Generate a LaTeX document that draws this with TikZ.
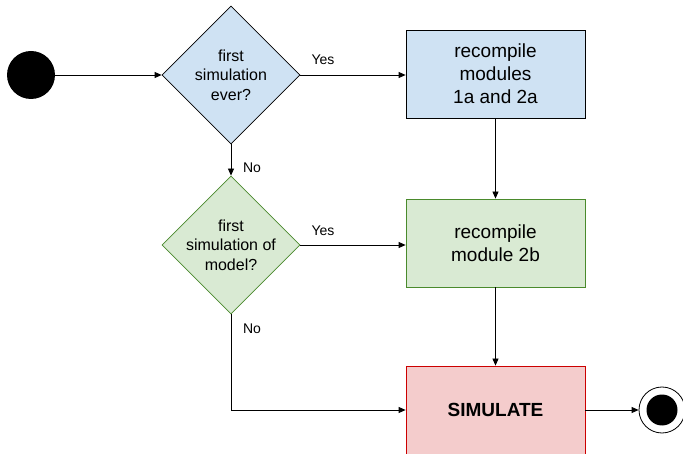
\documentclass[tikz,border=0pt]{standalone}
\usepackage{fontspec}
\setmainfont{Liberation Sans}
\usetikzlibrary{shapes.geometric,arrows.meta}
\definecolor{blueF}{HTML}{CFE2F3}
\definecolor{greenF}{HTML}{D9EAD3}
\definecolor{greenD}{HTML}{4A8A2C}
\definecolor{redF}{HTML}{F4CCCC}
\definecolor{redD}{HTML}{CC0000}
\begin{document}
\begin{tikzpicture}[x=1pt,y=-1pt,
  every path/.style={line width=0.8pt},
  arr/.style={draw,-{Triangle[length=7pt,width=6pt]}},
  dia/.style={shape=diamond,draw,minimum width=138pt,minimum height=138pt,inner sep=0pt},
  diatext/.style={align=center,font=\fontsize{16}{19.5}\selectfont,inner sep=0pt},
  boxnode/.style={draw,minimum width=179pt,minimum height=88pt,inner sep=0pt,align=center,font=\fontsize{19}{23}\selectfont},
  lbl/.style={font=\fontsize{14}{16}\selectfont,inner sep=0pt}]
\useasboundingbox (0,0) rectangle (683,454);
\node[circle,fill=black,minimum size=48pt,inner sep=0pt] (start) at (31,75) {};
\node[dia,fill=blueF] (d1) at (231,75) {};
\node[diatext] (d1t) at (d1.center) {first\\simulation\\ever?};
\node[boxnode,fill=blueF] (b1) at (495.5,74) {recompile\\modules\\1a and 2a};
\node[dia,fill=greenF,draw=greenD] (d2) at (231,245) {};
\node[diatext] (d2t) at (d2.center) {first\\simulation of\\model?};
\node[boxnode,fill=greenF,draw=greenD] (b2) at (495.5,243) {recompile\\module 2b};
\node[boxnode,fill=redF,draw=redD,font=\fontsize{19}{23}\selectfont\bfseries] (sim) at (495.5,410) {SIMULATE};
\node[circle,draw,fill=white,minimum size=46pt,inner sep=0pt] (endo) at (662,410) {};
\node[circle,fill=black,minimum size=31pt,inner sep=0pt] (endi) at (endo.center) {};
\draw[arr] (start.east) -- (d1.west);
\draw[arr] (d1.east) -- (d1.east -| b1.west);
\node[lbl] (y1) at (323,60) {Yes};
\draw[arr] (d1.south) -- (d2.north);
\node[lbl] (n1) at (252,168) {No};
\draw[arr] (d2.east) -- (d2.east -| b2.west);
\node[lbl] (y2) at (323,231) {Yes};
\draw[arr] (b1.south) -- (b2.north);
\draw[arr] (b2.south) -- (sim.north);
\draw[arr] (d2.south) |- (sim.west);
\node[lbl] (n2) at (252,329) {No};
\draw[arr] (sim.east) -- (endo.west);
\end{tikzpicture}
\end{document}
